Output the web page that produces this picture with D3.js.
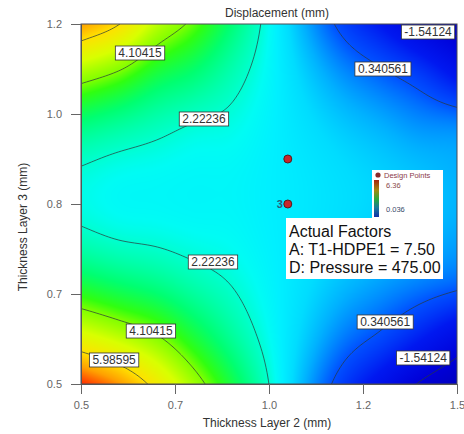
<!DOCTYPE html>
<html>
<head>
<meta charset="utf-8">
<script src="https://cdn.jsdelivr.net/npm/d3@7"></script>
<style>
  body { margin: 0; background: #fff; }
  svg { display: block; font-family: "Liberation Sans", Arial, sans-serif; }
</style>
</head>
<body>
<svg id="chart" width="464" height="434"></svg>
<script>
const layer2 = [0.5, 0.6, 0.7, 0.8, 0.9, 1.0, 1.1, 1.2, 1.3, 1.4, 1.5];
const layer3 = [0.5, 0.6, 0.7, 0.8, 0.9, 1.0, 1.1, 1.2];

// displacement (mm): one row per layer3 value, one column per layer2 value
const displacement = [
  [7.73, 6.90, 5.70, 4.45, 3.33, 2.22, 1.06, 0.01, -0.80, -1.60, -2.20],
  [5.06, 4.56, 4.05, 3.31, 2.63, 2.00, 1.36, 0.74,  0.29, -0.28, -0.90],
  [3.24, 2.97, 2.75, 2.45, 2.19, 1.88, 1.55, 1.23,  0.98,  0.75,  0.55],
  [2.26, 2.11, 2.06, 1.99, 1.95, 1.81, 1.66, 1.50,  1.35,  1.22,  1.05],
  [2.13, 2.00, 1.96, 1.92, 1.91, 1.80, 1.67, 1.53,  1.40,  1.27,  1.12],
  [2.85, 2.61, 2.38, 2.18, 2.08, 1.84, 1.57, 1.32,  1.11,  0.88,  0.80],
  [4.41, 3.95, 3.31, 2.94, 2.44, 1.92, 1.36, 0.85,  0.47,  0.05, -0.60],
  [6.81, 6.02, 4.73, 3.93, 2.97, 2.01, 1.03, 0.12, -0.55, -1.30, -1.85]
];

const contourLevels = [-1.54124, 0.340561, 2.22236, 4.10415, 5.98595];

// where each contour label sits (data units)
const labelLevel = [4.10415, 2.22236, 0.340561, -1.54124, 2.22236, 4.10415, 5.98595, 0.340561, -1.54124];
const labelX = [0.657, 0.827, 1.303, 1.423, 0.851, 0.686, 0.588, 1.309, 1.41];
const labelY = [1.1436, 1.0153, 1.1125, 1.1844, 0.7372, 0.603, 0.5467, 0.6206, 0.5506];

const xTickValues = [0.5, 0.75, 1.0, 1.25, 1.5];
const xTickLabels = ["0.5", "0.7", "1.0", "1.2", "1.5"];
const yTickValues = [0.5, 0.675, 0.85, 1.025, 1.2];
const yTickLabels = ["0.5", "0.7", "0.8", "1.0", "1.2"];

const pointX = [1.05, 1.05];
const pointY = [0.9375, 0.85];
const pointCount = [1, 3];

const factorLines = ["Actual Factors", "A: T1-HDPE1 = 7.50", "D: Pressure = 475.00"];
const legendHigh = "6.36";
const legendLow = "0.036";

// colours of the Design-Expert style rainbow
const colorStops = [-2.2, -1.54, -0.5, 0.34, 1.1, 1.5, 1.8, 2.0, 2.3, 3.0, 3.7, 4.1, 5.0, 6.0, 6.8, 7.8];
const colorRange = ["#0000c0", "#0000d8", "#0018f0", "#0050ff", "#00b0ff", "#00dcff", "#00f0ff", "#00fcf4",
                    "#00ffc4", "#00ff70", "#30ff10", "#80ff00", "#d8ff00", "#ffe000", "#ffa000", "#ff2000"];

const margin = { top: 24, left: 81 };
const width = 376, height = 360;

const svg = d3.select('#chart');
const x = d3.scaleLinear().domain([0.5, 1.5]).range([0, width]);
const y = d3.scaleLinear().domain([0.5, 1.2]).range([height, 0]);
const color = d3.scaleLinear().domain(colorStops).range(colorRange).clamp(true);

// smooth surface through the read values (catmull-rom, linear extrapolation at the edges)
const nc = layer2.length, nr = layer3.length;
function cell(r, c) {
  if (r < 0) return 2 * cell(0, c) - cell(1, c);
  if (r >= nr) return 2 * cell(nr - 1, c) - cell(nr - 2, c);
  if (c < 0) return 2 * cell(r, 0) - cell(r, 1);
  if (c >= nc) return 2 * cell(r, nc - 1) - cell(r, nc - 2);
  return displacement[r][c];
}
function cubic(p0, p1, p2, p3, t) {
  return p1 + 0.5 * t * (p2 - p0 + t * (2 * p0 - 5 * p1 + 4 * p2 - p3 + t * (3 * (p1 - p2) + p3 - p0)));
}
function surface(xv, yv) {
  const fx = (xv - layer2[0]) / (layer2[1] - layer2[0]);
  const fy = (yv - layer3[0]) / (layer3[1] - layer3[0]);
  const i = Math.max(0, Math.min(nc - 2, Math.floor(fx)));
  const j = Math.max(0, Math.min(nr - 2, Math.floor(fy)));
  const tx = fx - i, ty = fy - j;
  const rows = [-1, 0, 1, 2].map(d => cubic(cell(j + d, i - 1), cell(j + d, i), cell(j + d, i + 1), cell(j + d, i + 2), tx));
  return cubic(rows[0], rows[1], rows[2], rows[3], ty);
}

const g = svg.append('g').attr('transform', 'translate(' + margin.left + ',' + margin.top + ')');

// colour fill
const canvas = document.createElement('canvas');
canvas.width = width; canvas.height = height;
const ctx = canvas.getContext('2d');
const img = ctx.createImageData(width, height);
for (let j = 0; j < height; j++) {
  for (let i = 0; i < width; i++) {
    const c = d3.rgb(color(surface(x.invert(i + 0.5), y.invert(j + 0.5))));
    const k = (j * width + i) * 4;
    img.data[k] = c.r; img.data[k + 1] = c.g; img.data[k + 2] = c.b; img.data[k + 3] = 255;
  }
}
ctx.putImageData(img, 0, 0);
g.append('image')
  .attr('width', width).attr('height', height)
  .attr('href', canvas.toDataURL());

// contour lines
svg.append('defs').append('clipPath').attr('id', 'plotclip')
  .append('rect').attr('width', width).attr('height', height);

const n = width + 1, m = height + 1;
const grid = new Array(n * m);
for (let j = 0; j < m; j++)
  for (let i = 0; i < n; i++)
    grid[j * n + i] = surface(x.invert(i), y.invert(j));

const contours = d3.contours().size([n, m]).thresholds(contourLevels)(grid);
const path = d3.geoPath(d3.geoTransform({
  point: function (px, py) { this.stream.point(px - 0.5, py - 0.5); }
}));
g.append('g').attr('clip-path', 'url(#plotclip)')
  .selectAll('path')
  .data(contours)
  .join('path')
  .attr('d', path)
  .attr('fill', 'none')
  .attr('stroke', '#2a3a3a')
  .attr('stroke-opacity', 0.8)
  .attr('stroke-width', 0.9);

// contour labels
const labels = g.append('g').attr('font-size', 12);
labelLevel.forEach((lv, i) => {
  const lg = labels.append('g').attr('transform', 'translate(' + x(labelX[i]) + ',' + y(labelY[i]) + ')');
  const t = lg.append('text')
    .attr('text-anchor', 'middle')
    .attr('dy', '0.36em')
    .attr('fill', '#333')
    .text(String(lv));
  const w = t.node().getComputedTextLength() + 6;
  lg.insert('rect', 'text')
    .attr('x', -w / 2).attr('y', -7).attr('width', w).attr('height', 14)
    .attr('fill', '#fff').attr('stroke', '#333').attr('stroke-width', 0.8);
});

// design points
g.selectAll('circle.pt')
  .data(pointX)
  .join('circle')
  .attr('class', 'pt')
  .attr('cx', d => x(d))
  .attr('cy', (d, i) => y(pointY[i]))
  .attr('r', 4)
  .attr('fill', '#c8262c')
  .attr('stroke', '#5a1a1a')
  .attr('stroke-width', 1);
pointCount.forEach((c, i) => {
  if (c < 2) return;
  g.append('text')
    .attr('x', x(pointX[i]) - 5)
    .attr('y', y(pointY[i]))
    .attr('dy', '0.36em')
    .attr('text-anchor', 'end')
    .attr('font-size', 11)
    .attr('font-weight', 'bold')
    .attr('fill', '#2c5a7a')
    .text(c);
});

// legend box and actual factors box (plot-relative pixels)
const lx = 291, ly = 146;
const fx0 = 205, fy0 = 194;
g.append('rect').attr('x', lx).attr('y', ly).attr('width', 71).attr('height', 50).attr('fill', '#fff');
g.append('rect').attr('x', fx0).attr('y', fy0).attr('width', 157).attr('height', 61).attr('fill', '#fff');

const grad = svg.select('defs').append('linearGradient').attr('id', 'bar')
  .attr('x1', 0).attr('y1', 0).attr('x2', 0).attr('y2', 1);
[["0%", "#a82410"], ["28%", "#a08a10"], ["52%", "#2aa83a"], ["75%", "#1a7a9a"], ["100%", "#1030a8"]]
  .forEach(s => grad.append('stop').attr('offset', s[0]).attr('stop-color', s[1]));
g.append('circle').attr('cx', lx + 6).attr('cy', ly + 5).attr('r', 2.6).attr('fill', '#8b2a2a');
g.append('text').attr('x', lx + 12).attr('y', ly + 8).attr('font-size', 7.5).attr('fill', '#8b3a4a').text('Design Points');
g.append('rect').attr('x', lx + 2).attr('y', ly + 10).attr('width', 5).attr('height', 37).attr('fill', 'url(#bar)');
g.append('text').attr('x', lx + 14).attr('y', ly + 18).attr('font-size', 7.5).attr('fill', '#8a4a4a').text(legendHigh);
g.append('text').attr('x', lx + 14).attr('y', ly + 42).attr('font-size', 7.5).attr('fill', '#3a4a6a').text(legendLow);

g.append('g').selectAll('text')
  .data(factorLines)
  .join('text')
  .attr('x', fx0 + 3)
  .attr('y', (d, i) => fy0 + 19 + i * 18)
  .attr('font-size', 16)
  .attr('fill', '#111')
  .text(d => d);

// frame
g.append('rect').attr('width', width).attr('height', height)
  .attr('fill', 'none').attr('stroke', '#4a4a55').attr('stroke-width', 1);

// axes
const xAxis = g.append('g')
  .attr('transform', 'translate(0,' + height + ')')
  .call(d3.axisBottom(x).tickValues(xTickValues).tickFormat((d, i) => xTickLabels[i]).tickSize(10).tickPadding(7));
const yAxis = g.append('g')
  .call(d3.axisLeft(y).tickValues(yTickValues).tickFormat((d, i) => yTickLabels[i]).tickSize(10).tickPadding(9));
[xAxis, yAxis].forEach(a => {
  a.attr('font-family', null).attr('font-size', 11);
  a.selectAll('text').attr('fill', '#666');
  a.selectAll('line').attr('stroke', '#666');
  a.select('.domain').attr('stroke', '#555');
});

svg.append('text').attr('x', 277).attr('y', 17).attr('text-anchor', 'middle')
  .attr('font-size', 12).attr('fill', '#333').text('Displacement (mm)');
svg.append('text').attr('x', 267).attr('y', 427).attr('text-anchor', 'middle')
  .attr('font-size', 12).attr('fill', '#333').text('Thickness Layer 2 (mm)');
svg.append('text')
  .attr('transform', 'translate(27,227) rotate(-90)')
  .attr('text-anchor', 'middle')
  .attr('font-size', 12).attr('fill', '#333').text('Thickness Layer 3 (mm)');
</script>
</body>
</html>
